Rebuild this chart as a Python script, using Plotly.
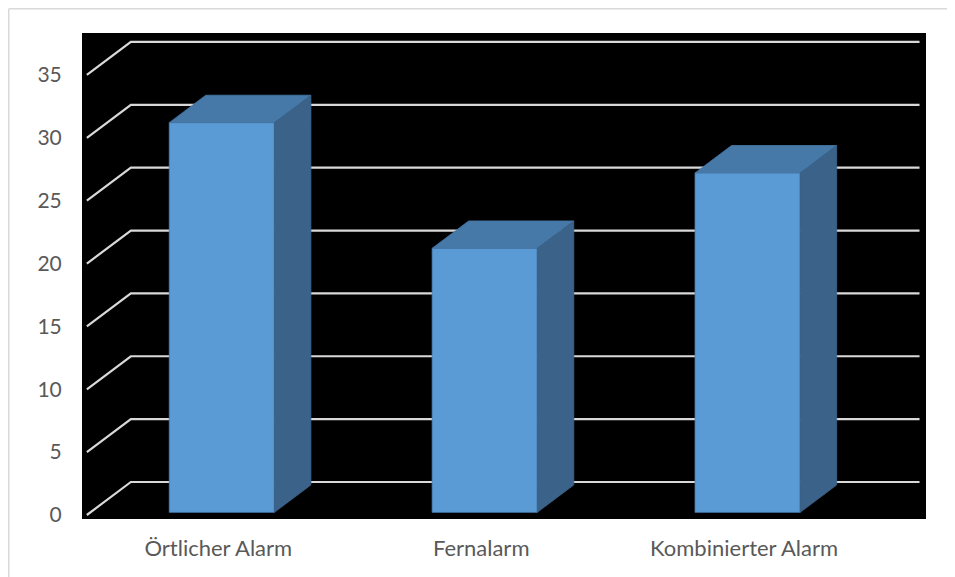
import plotly.graph_objects as go

# ---- data ----
categories = ["Örtlicher Alarm", "Fernalarm", "Kombinierter Alarm"]
values = [31, 21, 27]
y_ticks = [0, 5, 10, 15, 20, 25, 30, 35]

# ---- pseudo-3D geometry (in axis units) ----
DX = 44 / 262.9      # full depth, x units
DY = 33 / 12.563     # full depth, y units
F0, F1 = 0.08, 0.91  # bar depth span (fraction of full depth)
BAR_W = 0.40
FRONT = "#5B9BD5"
TOP = "#4678A8"
SIDE = "#3B6389"
EDGE = "#4A80B8"
GRID = "#D9D9D9"

fig = go.Figure()

# back-wall gridlines with perspective diagonals
x_left = -0.5
x_right = len(categories) - 0.5
for t in y_ticks:
    fig.add_trace(go.Scatter(
        x=[x_left, x_left + DX, x_right + DX],
        y=[t, t + DY, t + DY],
        mode="lines", line=dict(color=GRID, width=2.2),
        hoverinfo="skip", showlegend=False))

ddx = (F1 - F0) * DX
ddy = (F1 - F0) * DY
base = F0 * DY
for i, v in enumerate(values):
    cx = i + F0 * DX
    xl, xr = cx - BAR_W / 2, cx + BAR_W / 2
    top = v + base
    # front face
    fig.add_trace(go.Scatter(
        x=[xl, xr, xr, xl, xl], y=[base, base, top, top, base],
        mode="lines", fill="toself", fillcolor=FRONT,
        line=dict(color=EDGE, width=0.8),
        hoverinfo="skip", showlegend=False))
    # top face
    fig.add_trace(go.Scatter(
        x=[xl, xr, xr + ddx, xl + ddx, xl],
        y=[top, top, top + ddy, top + ddy, top],
        mode="lines", fill="toself", fillcolor=TOP,
        line=dict(color=TOP, width=0.8),
        hoverinfo="skip", showlegend=False))
    # side face
    fig.add_trace(go.Scatter(
        x=[xr, xr + ddx, xr + ddx, xr, xr],
        y=[base, base + ddy, top + ddy, top, base],
        mode="lines", fill="toself", fillcolor=SIDE,
        line=dict(color=SIDE, width=0.8),
        hoverinfo="skip", showlegend=False))

font_family = "Lato, 'Open Sans', sans-serif"
L, R, T, B = 74, 29, 25, 58
W, H = 947, 569
pw, ph = W - L - R, H - T - B
fig.update_layout(
    width=W, height=H,
    margin=dict(l=L, r=R, t=T, b=B),
    paper_bgcolor="white", plot_bgcolor="black",
    font=dict(family=font_family, size=22, color="#595959"),
    showlegend=False,
    xaxis=dict(range=[-0.5185, 2.692], tickvals=list(range(len(categories))),
               ticktext=categories, showgrid=False, zeroline=False,
               ticks="outside", ticklen=10, tickcolor="rgba(0,0,0,0)",
               showline=False, fixedrange=True),
    yaxis=dict(range=[-0.318, 38.34], tickvals=y_ticks,
               ticktext=[str(t) for t in y_ticks], showgrid=False,
               zeroline=False, ticks="outside", ticklen=15,
               tickfont=dict(size=21),
               tickcolor="rgba(0,0,0,0)", showline=False, fixedrange=True),
    shapes=[
        dict(type="line", xref="paper", yref="paper",
             x0=(0.75 - L) / pw, x1=(W - L + 5) / pw,
             y0=(H - B - 0.75) / ph, y1=(H - B - 0.75) / ph,
             line=dict(color="#D9D9D9", width=1.5)),
        dict(type="line", xref="paper", yref="paper",
             x0=(0.75 - L) / pw, x1=(0.75 - L) / pw,
             y0=(H - B - 0.75) / ph, y1=-(B + 5) / ph,
             line=dict(color="#D9D9D9", width=1.5)),
    ],
)

fig.write_html("out.html")
